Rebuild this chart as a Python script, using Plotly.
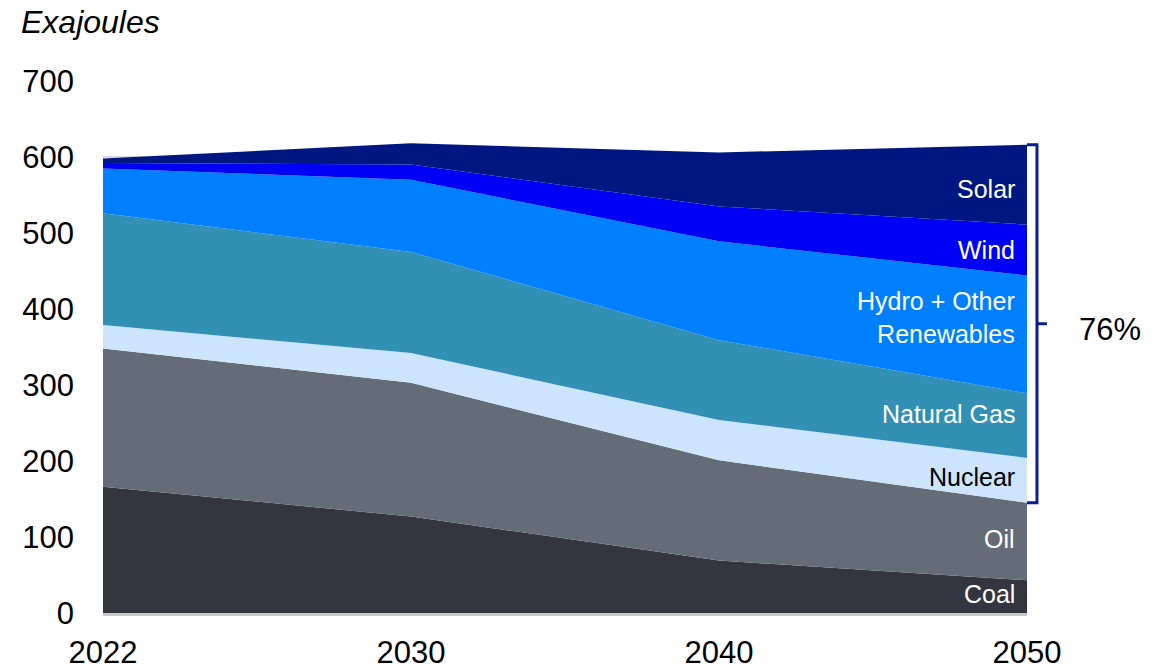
import plotly.graph_objects as go

# Global primary energy consumption by source (exajoules)
years = ["2022", "2030", "2040", "2050"]
coal = [166, 127, 69, 43]
oil = [182, 176, 132, 102]
nuclear = [31, 39, 53, 59]
natural_gas = [147, 133, 105, 85]
hydro_other = [59, 95, 130, 155]
wind = [7, 20, 46, 67]
solar = [6, 28, 71, 105]

y_ticks = [0, 100, 200, 300, 400, 500, 600, 700]

FONT = "Arial, 'Liberation Sans', sans-serif"

series = [
    ("Coal", coal, "#33363E", "white"),
    ("Oil", oil, "#636C77", "white"),
    ("Nuclear", nuclear, "#CCE4FC", "black"),
    ("Natural Gas", natural_gas, "#3390B5", "white"),
    ("Hydro + Other<br>Renewables", hydro_other, "#0080FF", "white"),
    ("Wind", wind, "#0000F5", "white"),
    ("Solar", solar, "#001680", "white"),
]

fig = go.Figure()
for name, vals, color, _ in series:
    fig.add_trace(go.Scatter(
        x=years, y=vals, name=name, mode="lines",
        stackgroup="one", line=dict(width=0, color=color),
        fillcolor=color, hoverinfo="x+y+name",
    ))

# Labels inside each band at the right edge
label_nudge = {"Hydro + Other<br>Renewables": 22, "Natural Gas": 15, "Solar": -5,
               "Coal": 3, "Oil": 3, "Nuclear": 4}
annotations = []
base = 0
for name, vals, _, txt_color in series:
    mid = base + vals[-1] / 2 + label_nudge.get(name, 0)
    annotations.append(dict(
        x=len(years) - 1, y=mid, xref="x", yref="y", text=name,
        showarrow=False, xanchor="right", yanchor="middle", align="right",
        xshift=-10, font=dict(family=FONT, size=25, color=txt_color),
    ))
    base += vals[-1]

# Bracket around the share of everything except oil and coal in 2050
total_2050 = sum(s[1][-1] for s in series)
fossil_2050 = coal[-1] + oil[-1]
share = round(100 * (total_2050 - fossil_2050) / total_2050)
mid_y = (total_2050 + fossil_2050) / 2
bx0, bx1, bx2 = 1.0, 1.0108, 1.0216
bracket_path = (f"M {bx0},{total_2050} L {bx1},{total_2050} L {bx1},{fossil_2050} L {bx0},{fossil_2050} "
                f"M {bx1},{mid_y} L {bx2},{mid_y}")
shapes = [dict(type="path", xref="paper", yref="y", path=bracket_path,
               line=dict(color="#0A1E8C", width=3))]

annotations.append(dict(
    x=1.0898, y=mid_y, xref="paper", yref="y", text=f"{share}%",
    showarrow=False, xanchor="center", yanchor="middle", yshift=-6,
    font=dict(family=FONT, size=31, color="black"),
))
annotations.append(dict(
    x=(22 - 103) / 924, y=1.111, xref="paper", yref="paper", text="<i>Exajoules</i>",
    showarrow=False, xanchor="left", yanchor="middle", xshift=-3,
    font=dict(family=FONT, size=32, color="black"),
))

fig.update_layout(
    width=1170, height=669,
    margin=dict(l=103, r=143, t=81, b=56),
    paper_bgcolor="white", plot_bgcolor="white",
    showlegend=False,
    font=dict(family=FONT, color="black"),
    annotations=annotations, shapes=shapes,
    xaxis=dict(
        type="category", range=[0, len(years) - 1], automargin=False,
        showgrid=False, showline=True, linecolor="#C8C8C8", linewidth=2.5,
        ticks="", tickfont=dict(family=FONT, size=31, color="black"),
        zeroline=False, ticklabelstandoff=10,
    ),
    yaxis=dict(
        range=[0, 700], tickvals=y_ticks, showgrid=True, automargin=False,
        gridcolor="#D9D9D9", gridwidth=2, showline=False, zeroline=False,
        ticks="", tickfont=dict(family=FONT, size=31, color="black"),
        ticklabelstandoff=28,
    ),
)

fig.write_html("out.html")
